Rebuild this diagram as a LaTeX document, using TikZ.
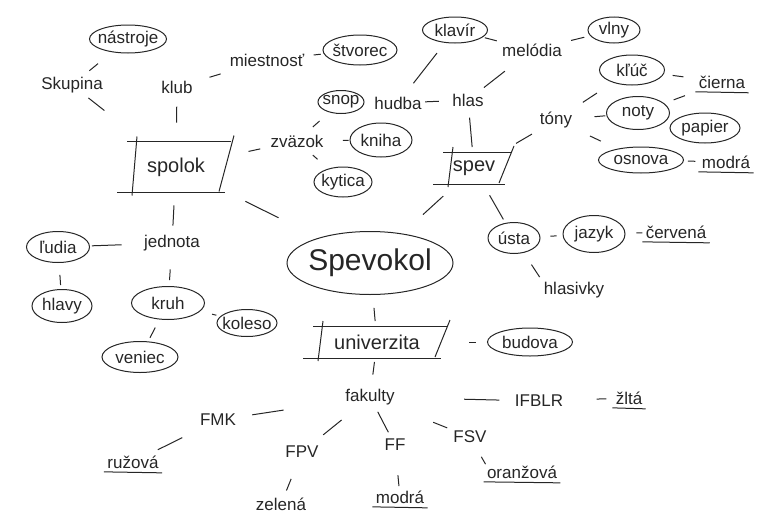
\documentclass[tikz,border=0pt]{standalone}
\usepackage{fontspec}
\setmainfont{Liberation Sans}
\usepackage{xcolor}
\usetikzlibrary{shapes.geometric, positioning}
\definecolor{ink}{HTML}{262626}

\tikzset{
  word/.style={inner sep=2pt, font=\fontsize{17}{19}\selectfont},
  bubble/.style 2 args={word, ellipse, draw, inner xsep=-4pt, inner ysep=-2pt,
    minimum width=#1pt, minimum height=#2pt},
  hue/.style={word, inner sep=1pt,
    append after command={([xshift=-2pt,yshift=-2pt]\tikzlastnode.south west) edge ([xshift=2pt,yshift=-3pt]\tikzlastnode.south east)}},
  frame/.style={word, font=\fontsize{20}{22}\selectfont, inner sep=0pt,
    append after command={
      ([xshift=3pt]\tikzlastnode.north west) edge ([xshift=3pt]\tikzlastnode.north east)
      ([xshift=-7pt]\tikzlastnode.south west) edge ([xshift=-3pt]\tikzlastnode.south east)
      ([xshift=8pt,yshift=-3pt]\tikzlastnode.south west) edge ([xshift=13pt,yshift=5pt]\tikzlastnode.north west)
      ([xshift=-9pt,yshift=1pt]\tikzlastnode.south east) edge ([xshift=6pt,yshift=6pt]\tikzlastnode.north east)}},
  link/.style 2 args={shorten <=#1pt, shorten >=#2pt}
}

\begin{document}
\begin{tikzpicture}[x=1pt, y=-1pt, color=ink, line width=1pt]
\useasboundingbox (0,0) rectangle (757,514);
% centre and the three main branches
\node[bubble={166}{63}, font=\fontsize{30}{32}\selectfont] (spevokol) at (370,263) {Spevokol};
\node[frame, minimum width=103pt, minimum height=50pt] (spolok) at (176,167) {spolok};
\node[frame, minimum width=67pt, minimum height=31pt] (spev) at (474,168) {spev};
\node[frame, minimum width=133pt, minimum height=31pt] (univerzita) at (377,342) {univerzita};

% spolok
\node[word] (skupina) at (72,85) {Skupina};
\node[bubble={77}{28}] (nastroje) at (128,39) {nástroje};
\node[word] (klub) at (177,87) {klub};
\node[word] (miestnost) at (267,60) {miestnosť};
\node[bubble={74}{30}] (stvorec) at (360,50) {štvorec};
\node[word] (zvazok) at (297,141) {zväzok};
\node[bubble={46}{23}] (snop) at (341,102) {snop};
\node[bubble={62}{34}] (kniha) at (381,140) {kniha};
\node[bubble={58}{30}] (kytica) at (343,182) {kytica};
\node[word] (jednota) at (172,243) {jednota};
\node[bubble={63}{31}] (ludia) at (58,247) {ľudia};
\node[bubble={60}{33}] (hlavy) at (62,306) {hlavy};
\node[bubble={73}{33}] (kruh) at (168,303) {kruh};
\node[bubble={60}{27}] (koleso) at (247,323) {koleso};
\node[bubble={76}{31}] (veniec) at (140,357) {veniec};

% spev
\node[word] (hlas) at (468,100) {hlas};
\node[word] (hudba) at (398,103) {hudba};
\node[bubble={65}{26}] (klavir) at (455,30) {klavír};
\node[word] (melodia) at (532,50) {melódia};
\node[bubble={52}{26}] (vlny) at (614,30) {vlny};
\node[word] (tony) at (556,120) {tóny};
\node[bubble={65}{30}] (kluc) at (632,70) {kľúč};
\node[bubble={63}{33}] (noty) at (638,113) {noty};
\node[bubble={70}{30}] (papier) at (705,128) {papier};
\node[bubble={85}{26}] (osnova) at (641,160) {osnova};
\node[hue] (cierna) at (722,82) {čierna};
\node[hue] (modra) at (726,162) {modrá};
\node[bubble={52}{31}] (usta) at (514,238) {ústa};
\node[bubble={62}{37}] (jazyk) at (594,234) {jazyk};
\node[hue] (cervena) at (676,232) {červená};
\node[word] (hlasivky) at (574,290) {hlasivky};

% univerzita
\node[bubble={85}{28}] (budova) at (530,342) {budova};
\node[word] (fakulty) at (370,397) {fakulty};
\node[word] (fmk) at (218,420) {FMK};
\node[word] (fpv) at (302,452) {FPV};
\node[word] (ff) at (395,445) {FF};
\node[word] (fsv) at (470,437) {FSV};
\node[word] (ifblr) at (539,401) {IFBLR};
\node[hue] (ruzova) at (133,462) {ružová};
\node[word] (zelena) at (281,504) {zelená};
\node[hue] (modrab) at (400,497) {modrá};
\node[hue] (oranzova) at (522,472) {oranžová};
\node[hue] (zlta) at (629,398) {žltá};

% connectors
\draw[link={20}{45}] (spolok) -- (spevokol);
\draw[link={18}{28}] (spev) -- (spevokol);
\draw[link={13}{5}] (spevokol) -- (univerzita);
\draw[link={50}{4}] (spolok) -- (skupina);
\draw[link={6}{18}] (skupina) -- (nastroje);
\draw[link={19}{11}] (spolok) -- (klub);
\draw[link={15}{18}] (klub) -- (miestnost);
\draw[link={7}{3}] (miestnost) -- (stvorec);
\draw[link={21}{8}] (spolok) -- (zvazok);
\draw[link={8}{13}] (zvazok) -- (snop);
\draw[link={17}{1}] (zvazok) -- (kniha);
\draw[link={8}{14}] (zvazok) -- (kytica);
\draw[link={13}{7}] (spolok) -- (jednota);
\draw[link={20}{2}] (jednota) -- (ludia);
\draw[link={12}{4}] (ludia) -- (hlavy);
\draw[link={16}{6}] (jednota) -- (kruh);
\draw[link={12}{4}] (kruh) -- (koleso);
\draw[link={9}{4}] (kruh) -- (veniec);
\draw[link={5}{9}] (spev) -- (hlas);
\draw[link={11}{1}] (hlas) -- (hudba);
\draw[link={14}{13}] (hudba) -- (klavir);
\draw[link={6}{20}] (hlas) -- (melodia);
\draw[link={2}{3}] (klavir) -- (melodia);
\draw[link={7}{6}] (melodia) -- (vlny);
\draw[link={17}{7}] (spev) -- (tony);
\draw[link={13}{19}] (tony) -- (kluc);
\draw[link={20}{1}] (tony) -- (noty);
\draw[link={17}{18}] (tony) -- (osnova);
\draw[link={9}{14}] (kluc) -- (cierna);
\draw[link={10}{17}] (noty) -- (cierna);
\draw[link={4}{5}] (osnova) -- (modra);
\draw[link={13}{4}] (spev) -- (usta);
\draw[link={10}{6}] (usta) -- (jazyk);
\draw[link={11}{2}] (jazyk) -- (cervena);
\draw[link={14}{3}] (usta) -- (hlasivky.north west);
\draw[link={25}{11}] (univerzita) -- (budova);
\draw[link={4}{12}] (univerzita) -- (fakulty);
\draw[link={60}{14}] (fakulty) -- (fmk);
\draw[link={20}{14}] (fakulty) -- (fpv);
\draw[link={5}{5}] (fakulty) -- (ff);
\draw[link={40}{4}] (fakulty) -- (fsv);
\draw[link={67}{13}] (fakulty) -- (ifblr);
\draw[link={21}{10}] (fmk) -- (ruzova);
\draw[link={20}{5}] (fpv) -- (zelena);
\draw[link={22}{3}] (ff) -- (modrab);
\draw[link={13}{0}] (fsv) -- (oranzova.north west);
\draw[link={31}{8}] (ifblr) -- (zlta);
\end{tikzpicture}
\end{document}
